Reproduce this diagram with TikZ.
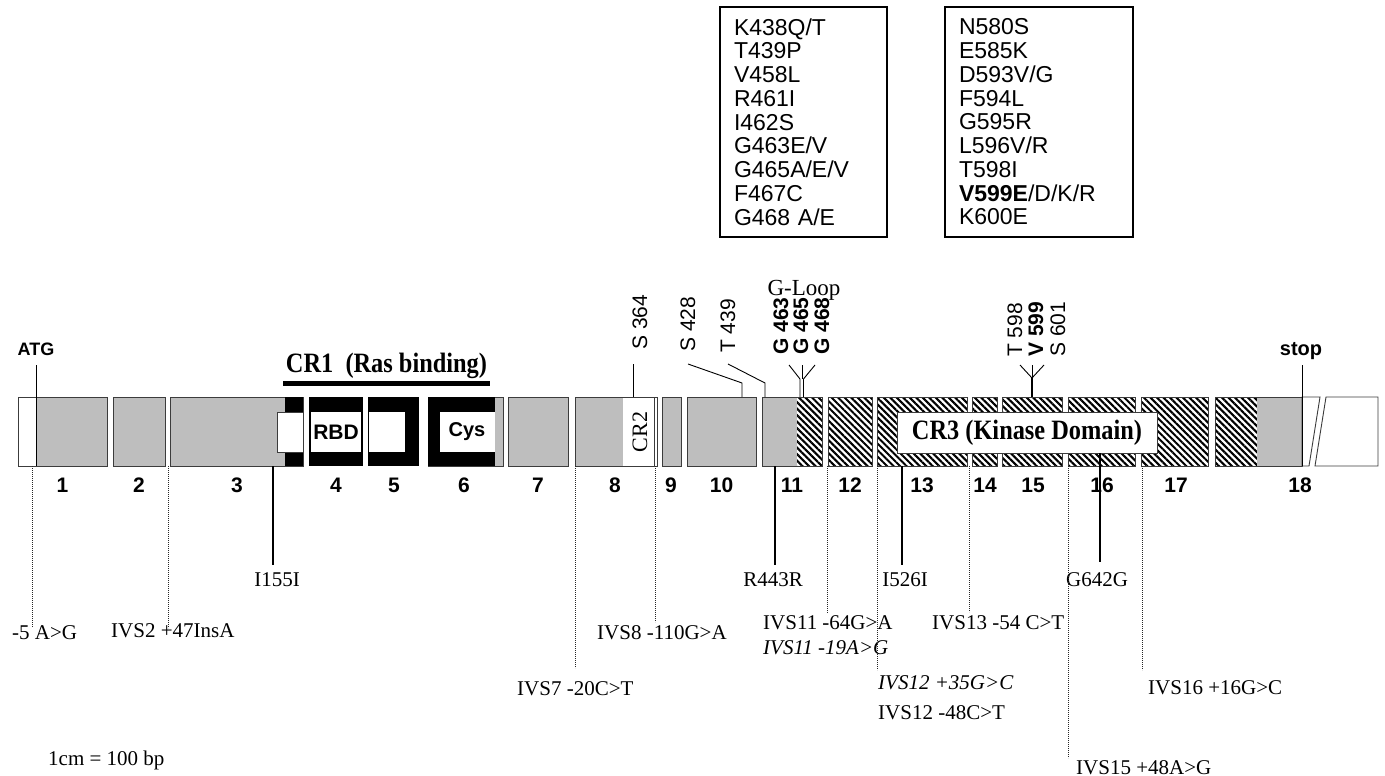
\documentclass[tikz,border=0pt]{standalone}
\usepackage{fontspec}
\setmainfont{Liberation Serif}
\setsansfont{Liberation Sans}
\newfontfamily\crfont[FakeStretch=0.87]{Liberation Serif}
\usetikzlibrary{patterns.meta}
\definecolor{exgray}{RGB}{190,190,190}
\definecolor{edgegray}{RGB}{60,60,60}
\begin{document}
\begin{tikzpicture}[x=1pt,y=-1pt,
 exon/.style={draw=edgegray, line width=0.9pt, fill=exgray},
 hatched/.style={draw=edgegray, line width=0.9pt, pattern={Lines[angle=-45,distance=4.6pt,line width=2.1pt]}},
 whitebox/.style={draw=edgegray, line width=0.8pt, fill=white},
 seriflab/.style={font=\fontsize{21}{24}\selectfont, inner sep=0pt},
 sansrot/.style={font=\fontsize{21}{22}\selectfont\sffamily, rotate=90, anchor=west, inner sep=0pt},
 sansrotbold/.style={sansrot, font=\fontsize{21}{22}\selectfont\sffamily\bfseries},
 exnum/.style={font=\fontsize{21}{24}\selectfont\sffamily\bfseries, inner sep=0pt},
 crlab/.style={font=\fontsize{28}{30}\selectfont\crfont\bfseries, inner sep=0pt},
 dotline/.style={line width=0.7pt, dash pattern=on 0.9pt off 1.1pt, black!85},
 sline/.style={line width=1.3pt},
 thinline/.style={line width=0.9pt},
 mutbox/.style={draw, line width=1.4pt, inner xsep=14pt, minimum height=230pt, align=left, font=\fontsize{23}{23.75}\selectfont\sffamily},
]
\useasboundingbox (0,0) rectangle (1385,776);

% ---------------- mutation boxes ----------------
\node[mutbox, text width=139pt] (mleft) at (803.5,122) {K438Q/T\\T439P\\V458L\\R461I\\I462S\\G463E/V\\G465A/E/V\\F467C\\G468 A/E};
\node[mutbox, text width=160pt] (mright) at (1039,122) {N580S\\E585K\\D593V/G\\F594L\\G595R\\L596V/R\\T598I\\{\bfseries V599E}/D/K/R\\K600E};

% ---------------- exons ----------------
% exon 1
\fill[white] (18,397) rectangle (36,466);
\fill[exgray] (36,397) rectangle (107,466);
\draw[edgegray, line width=0.9pt] (18,397) rectangle (107,466);
% exon 2
\draw[exon] (113,397) rectangle (165,466);
% exon 3
\draw[exon] (170,397) rectangle (303,466);
\fill[black] (285,397) rectangle (303,466);
\draw[whitebox] (277,412) rectangle (303,452);
% exon 4
\fill[black] (309,397) rectangle (363,466);
\fill[white] (311,412) rectangle (361,452);
% exon 5
\fill[black] (368,397) rectangle (419,466);
\fill[white] (369,412) rectangle (405,452);
% exon 6
\draw[exon] (428,397) rectangle (503,466);
\fill[black] (428,397) rectangle (495,466);
\fill[white] (440,412) rectangle (495,452);
% exon 7
\draw[exon] (508,397) rectangle (568,466);
% exon 8
\fill[exgray] (575,397) rectangle (623,466);
\fill[white] (623,397) rectangle (657,466);
\draw[edgegray, line width=0.9pt] (575,397) rectangle (657,466);
\draw[edgegray, line width=0.7pt] (654,397) -- (654,466);
% exon 9, 10
\draw[exon] (662,397) rectangle (681,466);
\draw[exon] (687,397) rectangle (756,466);
% exon 11
\fill[exgray] (762,397) rectangle (797,466);
\fill[pattern={Lines[angle=-45,distance=4.6pt,line width=2.1pt]}] (797,397) rectangle (822,466);
\draw[edgegray, line width=0.9pt] (762,397) rectangle (822,466);
% exons 12-17
\draw[hatched] (828,397) rectangle (872,466);
\draw[hatched] (877,397) rectangle (967,466);
\draw[hatched] (972,397) rectangle (997,466);
\draw[hatched] (1002,397) rectangle (1062,466);
\draw[hatched] (1068,397) rectangle (1135,466);
\draw[hatched] (1141,397) rectangle (1208,466);
% exon 18
\fill[pattern={Lines[angle=-45,distance=4.6pt,line width=2.1pt]}] (1215,397) rectangle (1257,466);
\fill[exgray] (1257,397) rectangle (1302,466);
\draw[edgegray, line width=0.9pt] (1215,397) rectangle (1302,466);
\filldraw[fill=white, draw=edgegray, line width=0.9pt] (1302,397) -- (1320,397) -- (1309,466) -- (1302,466) -- cycle;
\filldraw[fill=white, draw=edgegray, line width=0.9pt] (1326,397) -- (1378,397) -- (1378,466) -- (1315,466) -- cycle;

% labels inside bar
\node[font=\fontsize{21}{24}\selectfont\sffamily\bfseries, inner sep=0pt] (rbd) at (336,432) {RBD};
\node[font=\fontsize{20}{24}\selectfont\sffamily\bfseries, inner sep=0pt] (cys) at (467,432) {Cys};
\node[font=\fontsize{22}{24}\selectfont, rotate=90, inner sep=0pt] (cr2) at (640,432) {CR2};
\node[draw=edgegray, line width=0.9pt, fill=white, minimum width=260pt, minimum height=41pt, inner sep=0pt,
      crlab] (cr3) at (1027,432.5) {CR3 (Kinase Domain)};

% CR1
\coordinate (cr1a) at (283,383);
\coordinate (cr1b) at (490,383);
\draw[line width=5pt] (cr1a) -- (cr1b);
\node[crlab, anchor=base] (cr1) at (386.5,372) {CR1\ \ (Ras binding)};

% ATG and stop
\node[font=\fontsize{18}{20}\selectfont\sffamily\bfseries, anchor=base, inner sep=0pt] (atg) at (36,355) {ATG};
\coordinate (atga) at (36,365); \coordinate (atgb) at (36,466);
\draw[thinline] (atga) -- (atgb);
\node[font=\fontsize{20}{22}\selectfont\sffamily\bfseries, anchor=base, inner sep=0pt] (stop) at (1301,355) {stop};
\coordinate (stopa) at (1302,365); \coordinate (stopb) at (1302,466);
\draw[thinline] (stopa) -- (stopb);

% exon numbers
\node[exnum] (n1) at (62.5,485) {1};
\node[exnum] (n2) at (139,485) {2};
\node[exnum] (n3) at (237,485) {3};
\node[exnum] (n4) at (336,485) {4};
\node[exnum] (n5) at (394,485) {5};
\node[exnum] (n6) at (464,485) {6};
\node[exnum] (n7) at (538,485) {7};
\node[exnum] (n8) at (615,485) {8};
\node[exnum] (n9) at (671,485) {9};
\node[exnum] (n10) at (721.5,485) {10};
\node[exnum] (n11) at (792,485) {11};
\node[exnum] (n12) at (850,485) {12};
\node[exnum] (n13) at (922,485) {13};
\node[exnum] (n14) at (985,485) {14};
\node[exnum] (n15) at (1033,485) {15};
\node[exnum] (n16) at (1102,485) {16};
\node[exnum] (n17) at (1176,485) {17};
\node[exnum] (n18) at (1300,485) {18};

% ---------------- top rotated labels ----------------
\node[sansrot] (s364) at (640,350) {S 364};
\coordinate (s364a) at (633,364); \coordinate (s364b) at (633,397);
\draw[thinline] (s364a) -- (s364b);

\node[sansrot] (s428) at (688,352) {S 428};
\coordinate (s428a) at (688,364); \coordinate (s428m) at (742,383); \coordinate (s428b) at (742,397);
\draw[thinline] (s428a) -- (s428m) -- (s428b);

\node[sansrot] (t439) at (728,353) {T 439};
\coordinate (t439a) at (728,364); \coordinate (t439m) at (765,383); \coordinate (t439b) at (765,397);
\draw[thinline] (t439a) -- (t439m) -- (t439b);

\node[sansrotbold] (g463) at (781,355) {G 463};
\node[sansrotbold] (g465) at (801,355) {G 465};
\node[sansrotbold] (g468) at (822,355) {G 468};
\node[font=\fontsize{23}{24}\selectfont, anchor=base, inner sep=0pt] (gloop) at (804,295) {G-Loop};
\coordinate (gl1) at (789,365); \coordinate (gl2) at (802,365); \coordinate (gl3) at (815,365);
\coordinate (glj1) at (800,379); \coordinate (glj2) at (803.5,379);
\coordinate (glb1) at (800,397); \coordinate (glb2) at (803.5,397);
\draw[thinline] (gl1) -- (glj1) -- (glb1);
\draw[thinline] (gl3) -- (glj2) -- (glb2);
\draw[thinline] (gl2) -- (glj1 -| gl2);

\node[sansrot] (t598) at (1015,357) {T 598};
\node[sansrotbold] (v599) at (1036,357) {V 599};
\node[sansrot] (s601) at (1058,357) {S 601};
\coordinate (vy1) at (1020,365); \coordinate (vy2) at (1032,365); \coordinate (vy3) at (1044,365);
\coordinate (vyj) at (1032,378); \coordinate (vyb) at (1032,397);
\draw[thinline] (vy1) -- (vyj) -- (vy3);
\draw[thinline] (vy2) -- (vyj);
\draw[line width=2.6pt] (vyj) -- (vyb);

% ---------------- bottom labels ----------------
% solid (coding) lines
\node[seriflab, anchor=base] (i155) at (277,586) {I155I};
\coordinate (i155a) at (273,466); \coordinate (i155b) at (273,565);
\draw[sline] (i155a) -- (i155b);

\node[seriflab, anchor=base] (r443) at (773,586) {R443R};
\coordinate (r443a) at (775,466); \coordinate (r443b) at (775,565);
\draw[sline] (r443a) -- (r443b);

\node[seriflab, anchor=base] (i526) at (905,586) {I526I};
\coordinate (i526a) at (902,466); \coordinate (i526b) at (902,565);
\draw[sline] (i526a) -- (i526b);

\node[seriflab, anchor=base] (g642) at (1097,586) {G642G};
\coordinate (g642a) at (1100,453); \coordinate (g642b) at (1100,562);
\draw[sline] (g642a) -- (g642b);

% dotted (non-coding) lines
\node[seriflab, anchor=base west] (m5) at (12,639) {-5 A>G};
\coordinate (m5a) at (32,466); \coordinate (m5b) at (32,627);
\draw[dotline] (m5a) -- (m5b);

\node[seriflab, anchor=base west] (ivs2) at (111,637) {IVS2 +47InsA};
\coordinate (ivs2a) at (168,466); \coordinate (ivs2b) at (168,628);
\draw[dotline] (ivs2a) -- (ivs2b);

\node[seriflab, anchor=base west] (ivs7) at (517,695) {IVS7 -20C>T};
\coordinate (ivs7a) at (575,466); \coordinate (ivs7b) at (575,668);
\draw[dotline] (ivs7a) -- (ivs7b);

\node[seriflab, anchor=base west] (ivs8) at (597,639) {IVS8 -110G>A};
\coordinate (ivs8a) at (655,466); \coordinate (ivs8b) at (655,622);
\draw[dotline] (ivs8a) -- (ivs8b);

\node[seriflab, anchor=base west] (ivs11a) at (763,629) {IVS11 -64G>A};
\node[seriflab, anchor=base west, font=\fontsize{21}{24}\selectfont\itshape] (ivs11b) at (763,654) {IVS11 -19A>G};
\coordinate (ivs11p) at (827,466); \coordinate (ivs11q) at (827,613);
\draw[dotline] (ivs11p) -- (ivs11q);

\node[seriflab, anchor=base west, font=\fontsize{21}{24}\selectfont\itshape] (ivs12a) at (878,689) {IVS12 +35G>C};
\node[seriflab, anchor=base west] (ivs12b) at (878,719) {IVS12 -48C>T};
\coordinate (ivs12p) at (877,466); \coordinate (ivs12q) at (877,670);
\draw[dotline] (ivs12p) -- (ivs12q);

\node[seriflab, anchor=base west] (ivs13) at (932,629) {IVS13 -54 C>T};
\coordinate (ivs13a) at (969,466); \coordinate (ivs13b) at (969,612);
\draw[dotline] (ivs13a) -- (ivs13b);

\node[seriflab, anchor=base west] (ivs15) at (1076,774) {IVS15 +48A>G};
\coordinate (ivs15a) at (1068,466); \coordinate (ivs15b) at (1068,758);
\draw[dotline] (ivs15a) -- (ivs15b);

\node[seriflab, anchor=base west] (ivs16) at (1148,694) {IVS16 +16G>C};
\coordinate (ivs16a) at (1142,466); \coordinate (ivs16b) at (1142,670);
\draw[dotline] (ivs16a) -- (ivs16b);

% scale
\node[seriflab, anchor=base west] (scale) at (48,765) {1cm = 100 bp};
\end{tikzpicture}
\end{document}
